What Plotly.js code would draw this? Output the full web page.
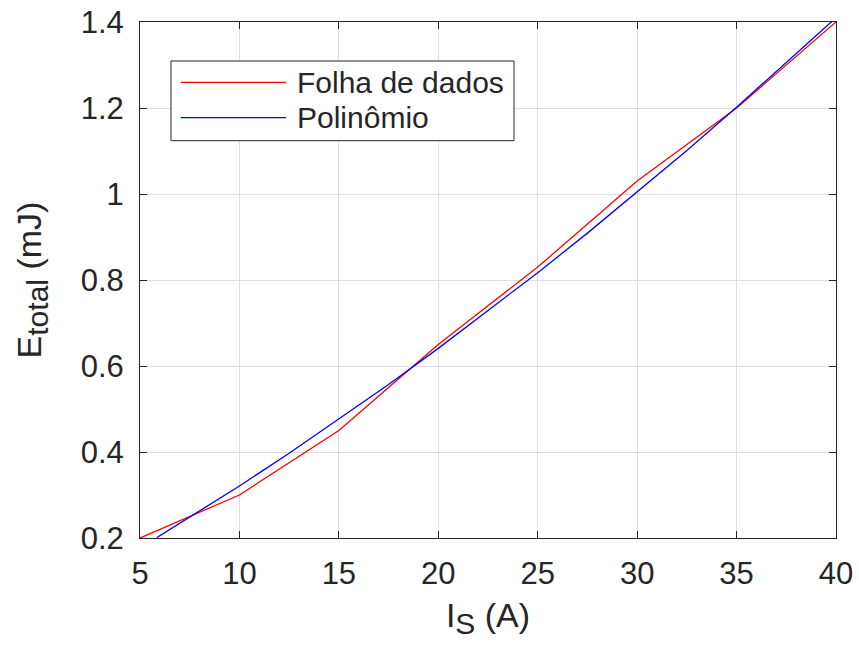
<!DOCTYPE html>
<html>
<head>
<meta charset="utf-8">
<script src="https://cdn.plot.ly/plotly-3.0.1.min.js"></script>
<style>
  html, body { margin: 0; padding: 0; background: #ffffff; }
  #chart { width: 859px; height: 646px; }
</style>
</head>
<body>
<div id="chart"></div>
<script>
// Datasheet curve: total switching energy vs. current
const datasheetCurrent = [5, 10, 15, 20, 25, 30, 35, 40];
const datasheetEnergy  = [0.2, 0.3, 0.45, 0.65, 0.83, 1.03, 1.2, 1.4];

// Fitted polynomial curve, sampled points
const polyCurrent = [5.85, 7.5, 10, 12.5, 15, 17.5, 20, 22.5, 25, 27.5, 30, 32.5, 35, 37.5, 40];
const polyEnergy  = [0.201, 0.248, 0.321, 0.397, 0.476, 0.557, 0.641, 0.728, 0.817, 0.909, 1.004, 1.101, 1.202, 1.305, 1.41];

const seriesNames = ['Folha de dados', 'Polinômio'];
const seriesColors = ['#ff0000', '#0000ff'];

const xTicks = [5, 10, 15, 20, 25, 30, 35, 40];
const yTicks = [0.2, 0.4, 0.6, 0.8, 1, 1.2, 1.4];

const FONT = 'Liberation Sans, Arial, sans-serif';
const INK = '#262626';

const traces = [
  {
    x: datasheetCurrent, y: datasheetEnergy, type: 'scatter', mode: 'lines',
    name: seriesNames[0], line: { color: seriesColors[0], width: 1.3 }
  },
  {
    x: polyCurrent, y: polyEnergy, type: 'scatter', mode: 'lines',
    name: seriesNames[1], line: { color: seriesColors[1], width: 1.3 }
  }
];

// Boxed legend drawn in paper coordinates
const legBox = { x0: 0.0445, x1: 0.5374, y0: 0.770, y1: 0.9244 };
const legRows = [0.8831, 0.8145];
const legLine = { x0: 0.0585, x1: 0.2098 };
const legTextX = 0.2227;

const shapes = [
  { type: 'rect', xref: 'paper', yref: 'paper', x0: legBox.x0, x1: legBox.x1, y0: legBox.y0, y1: legBox.y1,
    line: { color: INK, width: 1 }, fillcolor: '#ffffff', layer: 'above' }
];
const annotations = [];
seriesNames.forEach((nm, i) => {
  shapes.push({ type: 'line', xref: 'paper', yref: 'paper', x0: legLine.x0, x1: legLine.x1,
    y0: legRows[i], y1: legRows[i], line: { color: seriesColors[i], width: 1.3 }, layer: 'above' });
  annotations.push({ xref: 'paper', yref: 'paper', x: legTextX, y: legRows[i], xanchor: 'left', yanchor: 'middle',
    text: nm, showarrow: false, font: { family: FONT, size: 30, color: INK } });
});

// Subscripts kept close to full size
const sub = s => '<sub><span style="font-size:30px">' + s + '</span></sub>';

const layout = {
  width: 859, height: 646,
  paper_bgcolor: '#ffffff', plot_bgcolor: '#ffffff',
  margin: { l: 140, r: 23, t: 22, b: 108 },
  showlegend: false,
  font: { family: FONT, color: INK },
  xaxis: {
    range: [5, 40], tickvals: xTicks, ticktext: xTicks.map(String),
    showgrid: true, gridcolor: '#dfdfdf', gridwidth: 1, zeroline: false,
    showline: true, linecolor: INK, linewidth: 1, mirror: 'ticks',
    ticks: 'inside', ticklen: 7, tickcolor: INK, tickwidth: 1,
    ticklabelstandoff: 8,
    tickfont: { family: FONT, size: 31, color: INK },
    title: { text: 'I' + sub('S') + ' (A)', font: { family: FONT, size: 34, color: INK }, standoff: 12 }
  },
  yaxis: {
    range: [0.2, 1.4], tickvals: yTicks, ticktext: yTicks.map(String),
    showgrid: true, gridcolor: '#dfdfdf', gridwidth: 1, zeroline: false,
    showline: true, linecolor: INK, linewidth: 1, mirror: 'ticks',
    ticks: 'inside', ticklen: 7, tickcolor: INK, tickwidth: 1,
    ticklabelstandoff: 9,
    tickfont: { family: FONT, size: 31, color: INK },
    title: { text: 'E' + sub('total') + ' (mJ)', font: { family: FONT, size: 34, color: INK }, standoff: 28 }
  },
  shapes: shapes,
  annotations: annotations
};

Plotly.newPlot('chart', traces, layout, { staticPlot: true, displayModeBar: false });
</script>
</body>
</html>
